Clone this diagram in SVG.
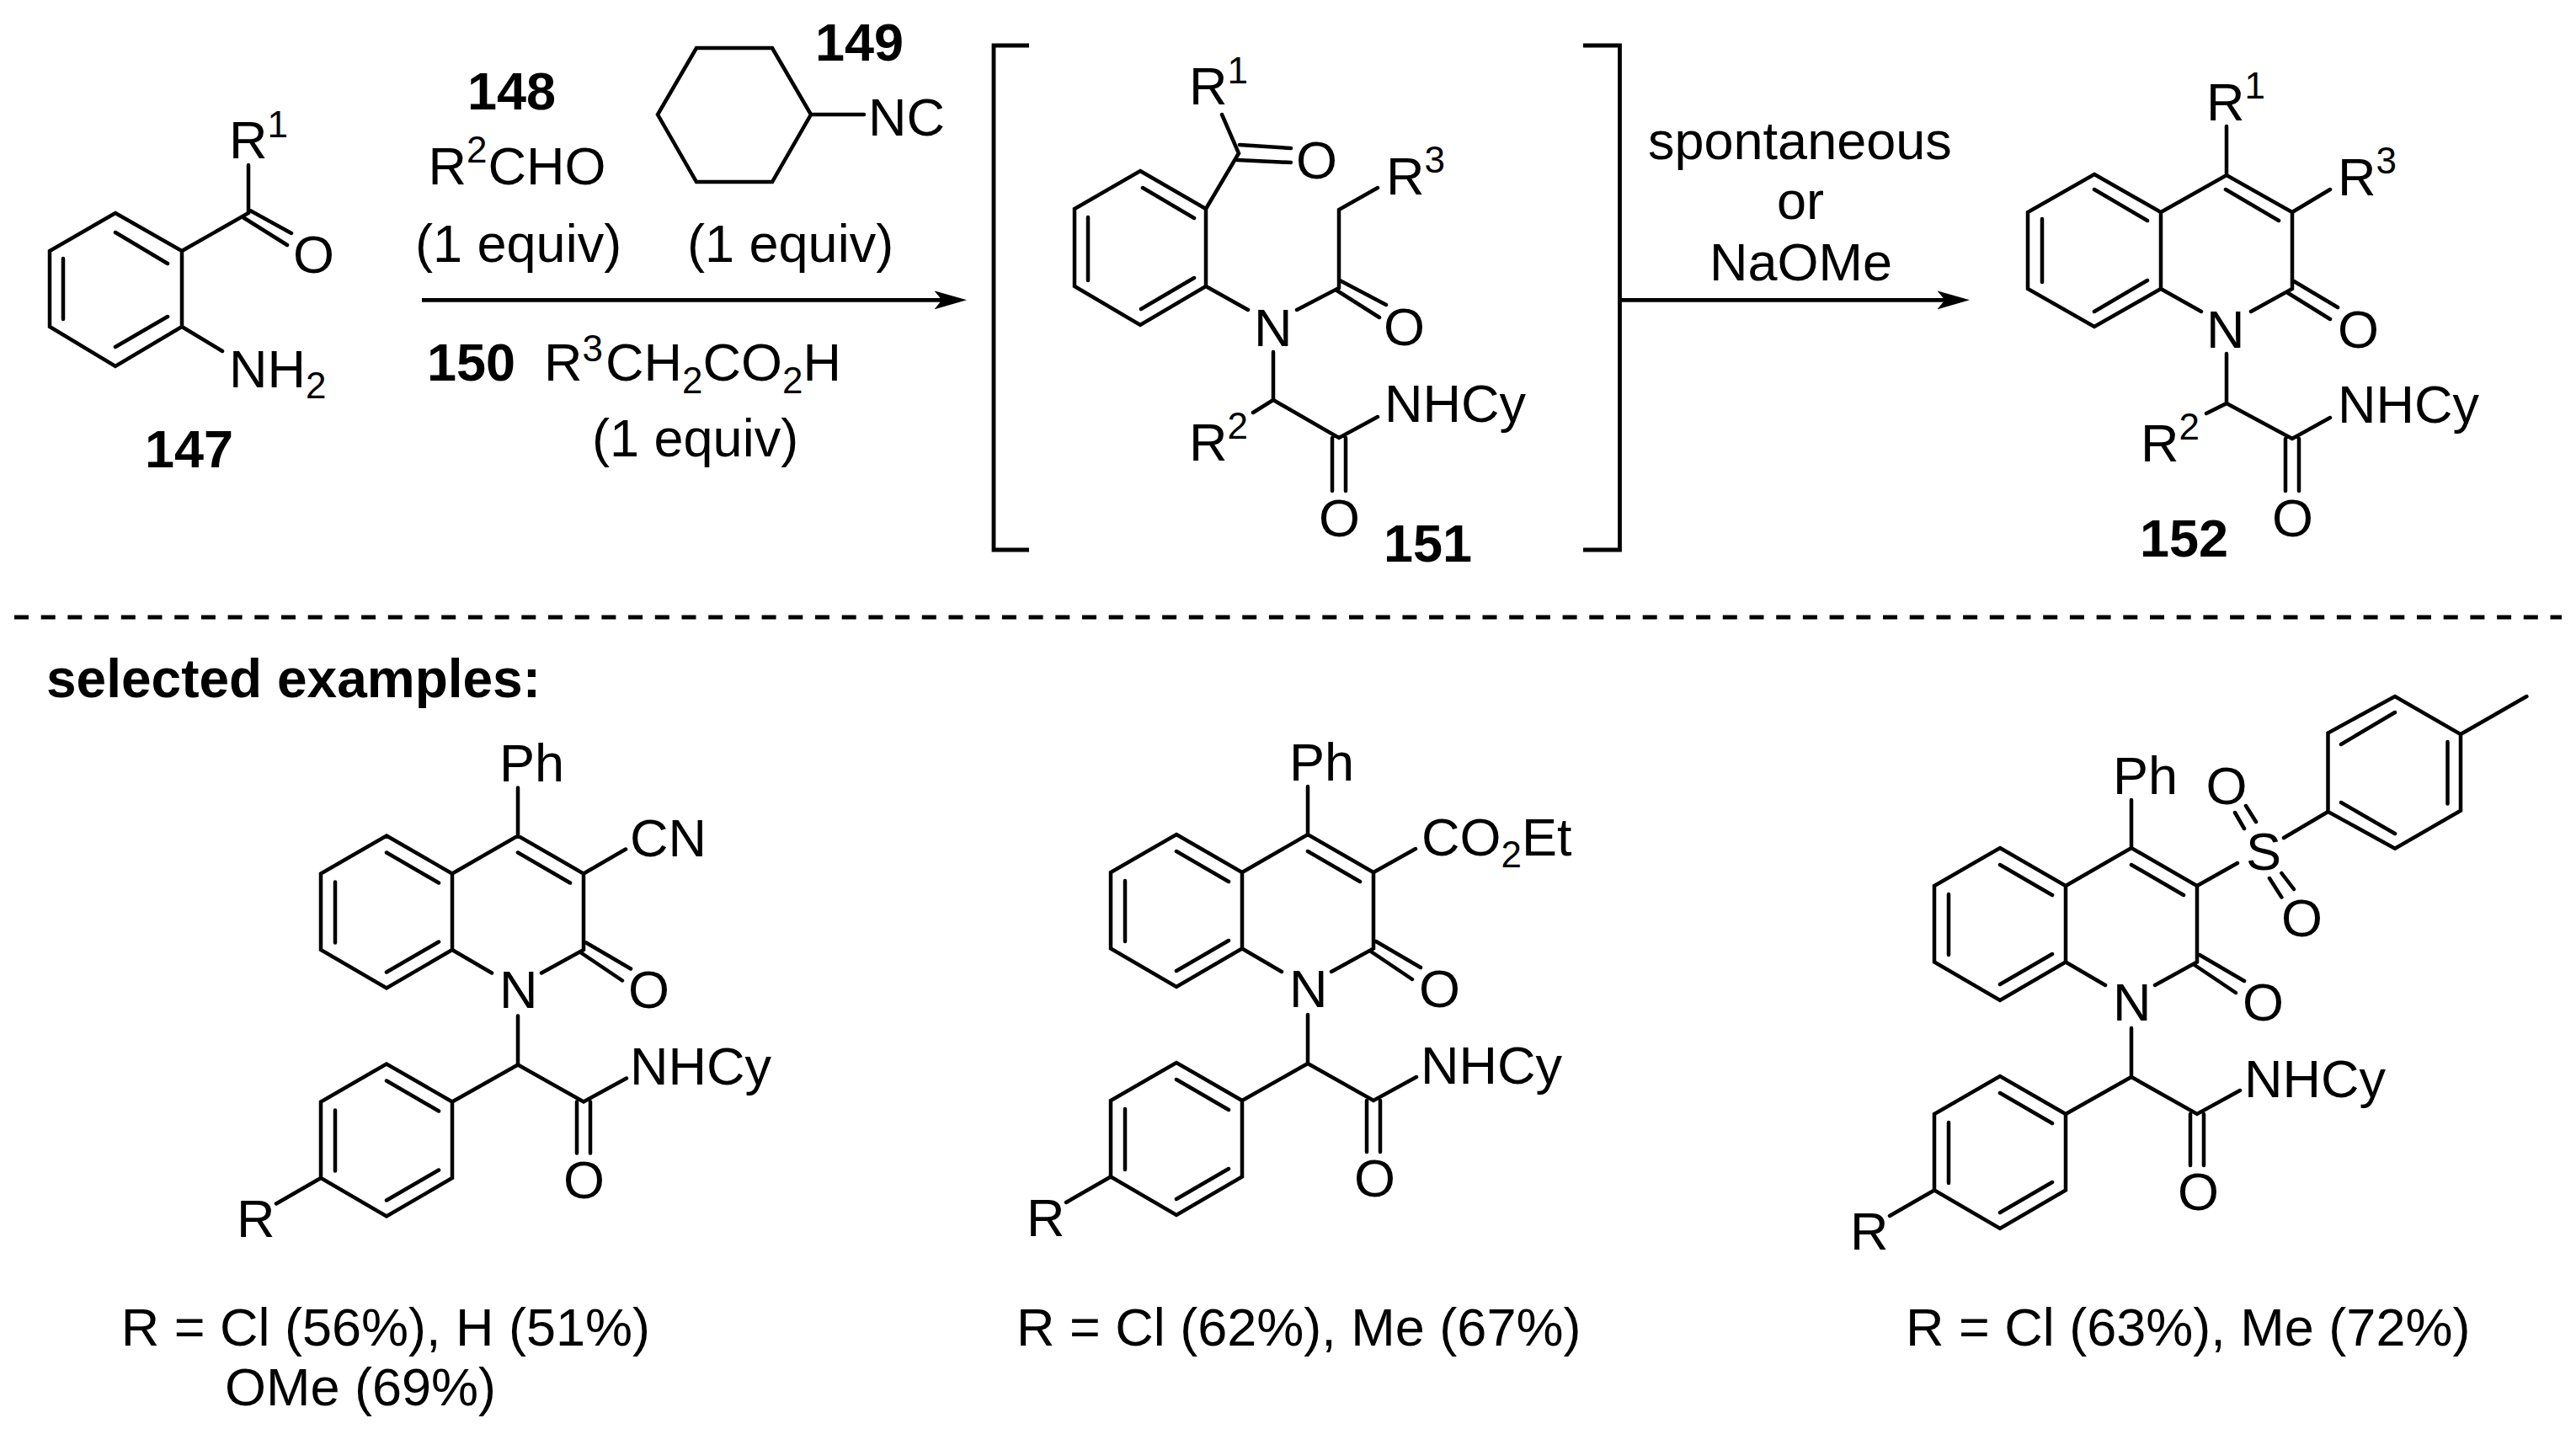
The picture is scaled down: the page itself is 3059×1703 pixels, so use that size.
<svg xmlns="http://www.w3.org/2000/svg" width="3059" height="1703" viewBox="0 0 3059 1703">
<style>
text{font-family:"Liberation Sans",Arial,sans-serif;font-size:63px;fill:#000}
.b{font-weight:bold}
.h{font-size:64px}
.s{font-size:44px}
.bond{fill:none;stroke:#000;stroke-width:4.5;stroke-linecap:round;stroke-linejoin:miter}
.line{fill:none;stroke:#000;stroke-width:4.8}
</style>
<defs>
<marker id="head" markerUnits="userSpaceOnUse" markerWidth="44" markerHeight="26" refX="18.5" refY="13" orient="auto" viewBox="0 0 44 26"><path d="M0,2 L38.5,13 L0,24 L9,13 Z" fill="#000"/></marker>
<path id="core" class="bond" d="M0,0 L78,45 L78,135.5 L0,181 L-78,135.5 L-78,45 Z M78,45 L156,0 L234,45 L234,135.5 L184,163 M78,135.5 L125,163 M0,20 L62,56 M-61,55 L-61,127 M0,162 L62,126 M156,20 L218,56 M237,127 L290,158 M231,139 L280,172 M156,0 L156,-57 M156,214 L156,272 M78,316 L0,271 L-78,316 L-78,406.5 L0,452 L78,406.5 Z M156,272 L78,316 M156,272 L234,316 L285,288 M226,316 L226,377 M242,316 L242,377 M0,291 L62,327 M-61,326 L-61,398 M0,433 L62,397 M-78,406.5 L-131,437"/>
</defs>
<g id="connectors">
<path class="line" d="M501,356.3 H1128" marker-end="url(#head)"/>
<path class="line" d="M1924,356.3 H2319" marker-end="url(#head)"/>
<path id="divider" d="M17,733 H3042" fill="none" stroke="#000" stroke-width="5" stroke-dasharray="17 14.7"/>
</g>
<g id="n147">
<path class="bond" d="M137,253 L216,298 L216,388 L137,435 L59,388 L59,298 Z M216,298 L295,253 L295,196 M137,276 L199,313 M75,307 L75,379 M137,412 L199,376 M290,259 L341,291 M297,250 L346,277 M216,388 L264,417"/>
<text x="272" y="188">R<tspan class="s" dy="-25">1</tspan></text>
<text x="348" y="324">O</text>
<text x="272" y="460">NH<tspan class="s" dy="13">2</tspan></text>
<text class="b" x="172" y="555">147</text>
</g>
<g id="n148">
<text class="b" x="555" y="130">148</text>
<text x="508.5" y="219">R<tspan class="s" dy="-26">2</tspan><tspan dy="26" dx="1">CHO</tspan></text>
<text x="493" y="311">(1 equiv)</text>
</g>
<g id="n149">
<text class="b" x="968" y="72">149</text>
<path class="bond" d="M827,57 H917 L963,136 L917,216 H827 L781,136 Z M963,136 H1026"/>
<text x="1031" y="161">NC</text>
<text x="816" y="311">(1 equiv)</text>
</g>
<g id="n150">
<text class="b" x="507" y="452">150</text>
<text x="646" y="452">R<tspan class="s" dy="-23">3</tspan><tspan dy="23" dx="3">CH</tspan><tspan class="s" dy="15">2</tspan><tspan dy="-15">CO</tspan><tspan class="s" dy="15">2</tspan><tspan dy="-15">H</tspan></text>
<text x="703" y="542">(1 equiv)</text>
</g>
<g id="n151">
<path class="line" d="M1222,54 H1180 V653 H1222 M1880,54 H1923.5 V653 H1880"/>
<path class="bond" d="M1354,203 L1432,248 L1432,340 L1354,386 L1276,340 L1276,248 Z M1357,223 L1418,259 M1292,258 L1292,333 M1355,367 L1418,330 M1432,248 L1471,182 L1451,136 M1472,172 L1533,176 M1469,190 L1533,193 M1432,340 L1482,368 M1540,368 L1590,342 L1590,249 L1636,223 M1591,333 L1646,362 M1586,344 L1638,377 M1512,418 L1512,475 L1488,490 M1512,475 L1590,520 L1636,495 M1582,520 L1582,583 M1598,520 L1598,583"/>
<text x="1412" y="124">R<tspan class="s" dy="-25">1</tspan></text>
<text x="1539" y="212">O</text>
<text x="1646" y="231">R<tspan class="s" dy="-26">3</tspan></text>
<text x="1643" y="410">O</text>
<text x="1489" y="411">N</text>
<text x="1412" y="547">R<tspan class="s" dy="-26">2</tspan></text>
<text x="1644" y="501">NHCy</text>
<text x="1566" y="637">O</text>
<text class="b" x="1643" y="667">151</text>
</g>
<g id="conditions">
<text x="1957" y="189">spontaneous</text>
<text x="2110" y="260">or</text>
<text x="2030" y="333">NaOMe</text>
</g>
<g id="n152">
<path class="bond" d="M2487,207 L2566,252 L2566,343 L2487,388 L2408,343 L2408,252 Z M2566,252 L2644,208 L2722,252 L2722,343 L2673,370 M2566,343 L2614,370 M2487,225 L2550,262 M2425,260 L2425,335 M2487,370 L2550,333 M2643,225 L2706,262 M2644,208 L2644,150 M2722,252 L2767,225 M2724,334 L2776,365 M2717,348 L2767,379 M2644,420 L2644,479 L2620,491 M2644,479 L2722,521 L2767,496 M2714,521 L2714,583 M2730,521 L2730,583"/>
<text x="2620" y="143">R<tspan class="s" dy="-26">1</tspan></text>
<text x="2776" y="232">R<tspan class="s" dy="-26">3</tspan></text>
<text x="2620" y="413">N</text>
<text x="2776" y="413">O</text>
<text x="2542" y="548">R<tspan class="s" dy="-26">2</tspan></text>
<text x="2776" y="502">NHCy</text>
<text x="2698" y="637">O</text>
<text class="b" x="2541" y="661">152</text>
</g>
<text id="heading" class="b h" x="55" y="828">selected examples:</text>
<g id="ex1" transform="translate(459,992.5)">
<use href="#core"/>
<path class="bond" d="M234,45 L284,16"/>
<text x="134" y="-65">Ph</text>
<text x="289" y="24">CN</text>
<text x="134" y="204">N</text>
<text x="287" y="204">O</text>
<text x="289" y="295">NHCy</text>
<text x="210" y="430">O</text>
<text x="-178" y="476">R</text>
</g>
<g id="ex1-label">
<text x="143.7" y="1598">R = Cl (56%), H (51%)</text>
<text x="267" y="1669">OMe (69%)</text>
</g>
<g id="ex2" transform="translate(1397,991)">
<use href="#core"/>
<path class="bond" d="M234,45 L284,17"/>
<text x="134" y="-64">Ph</text>
<text x="291" y="25">CO<tspan class="s" dy="14">2</tspan><tspan dy="-14">Et</tspan></text>
<text x="134" y="205">N</text>
<text x="288" y="205">O</text>
<text x="290" y="296">NHCy</text>
<text x="211" y="430">O</text>
<text x="-178" y="477">R</text>
</g>
<text id="ex2-label" x="1207" y="1598">R = Cl (62%), Me (67%)</text>
<g id="ex3" transform="translate(2375,1007)">
<use href="#core"/>
<text x="134" y="-64">Ph</text>
<text x="134" y="205">N</text>
<text x="288" y="205">O</text>
<text x="290" y="296">NHCy</text>
<text x="211" y="430">O</text>
<text x="-178" y="477">R</text>
</g>
<g id="ex3-tosyl">
<path class="bond" d="M2609,1052 L2657,1025 M2712,995 L2764.5,964 M2764.5,964 L2764.5,870.5 L2844,827 L2922,872 L2922,962.6 L2844,1007.6 Z M2922,872 L3000.4,827 M2780,884 L2844,846 M2906.5,881 L2906.5,954.5 M2780,953 L2844,990 M2654,965 L2665,984 M2667,957 L2679,976 M2695,1043 L2709.4,1065.6 M2709.4,1037 L2724,1056"/>
<text x="2667" y="1033">S</text>
<text x="2619.5" y="954.5">O</text>
<text x="2709" y="1111.7">O</text>
</g>
<text id="ex3-label" x="2263" y="1598">R = Cl (63%), Me (72%)</text>
</svg>
